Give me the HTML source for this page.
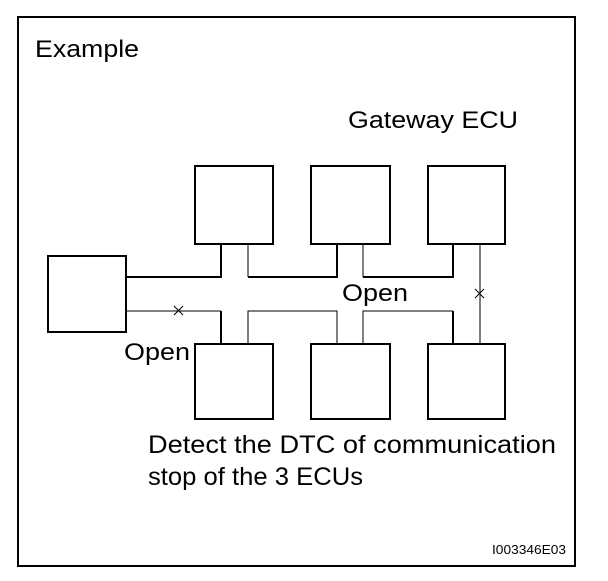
<!DOCTYPE html>
<html><head><style>html,body{margin:0;padding:0;background:#fff}</style></head>
<body>
<svg width="608" height="576" viewBox="0 0 608 576" xmlns="http://www.w3.org/2000/svg" font-family="Liberation Sans, Arial, sans-serif">
<rect width="608" height="576" fill="#fff"/>
<rect x="18" y="17" width="557" height="549" fill="none" stroke="#000" stroke-width="2"/>
<text x="35" y="57" font-size="24" textLength="104" lengthAdjust="spacingAndGlyphs">Example</text>
<text x="348" y="128" font-size="24" textLength="170" lengthAdjust="spacingAndGlyphs">Gateway ECU</text>
<g fill="#fff" stroke="#000" stroke-width="2">
<rect x="48" y="256" width="78" height="76"/>
<rect x="195" y="166" width="78" height="78"/>
<rect x="311" y="166" width="79" height="78"/>
<rect x="428" y="166" width="77" height="78"/>
<rect x="195" y="344" width="78" height="75"/>
<rect x="311" y="344" width="79" height="75"/>
<rect x="428" y="344" width="77" height="75"/>
</g>
<g fill="none" stroke="#000" stroke-width="2">
<polyline points="126,277 221,277 221,244"/>
<polyline points="337,244 337,277 248,277"/>
<polyline points="453,244 453,277 363,277"/>
<line x1="221" y1="311" x2="221" y2="344"/>
<line x1="453" y1="311" x2="453" y2="344"/>
</g>
<g fill="none" stroke="#000" stroke-width="1">
<line x1="248" y1="244" x2="248" y2="277"/>
<line x1="363" y1="244" x2="363" y2="277"/>
<line x1="480" y1="244" x2="480" y2="344"/>
<polyline points="126,311 221,311"/>
<polyline points="248,344 248,311 337,311 337,344"/>
<polyline points="363,344 363,311 453,311"/>
<path d="M174,306 l9,9 M183,306 l-9,9"/>
<path d="M475,289 l9,9 M484,289 l-9,9"/>
</g>
<text x="342" y="301" font-size="24" textLength="66" lengthAdjust="spacingAndGlyphs">Open</text>
<text x="124" y="360" font-size="24" textLength="66" lengthAdjust="spacingAndGlyphs">Open</text>
<text x="148" y="453" font-size="25" textLength="408" lengthAdjust="spacingAndGlyphs">Detect the DTC of communication</text>
<text x="148" y="485" font-size="25" textLength="215" lengthAdjust="spacingAndGlyphs">stop of the 3 ECUs</text>
<text x="492" y="554" font-size="13" textLength="74" lengthAdjust="spacingAndGlyphs">I003346E03</text>
</svg>
</body></html>
